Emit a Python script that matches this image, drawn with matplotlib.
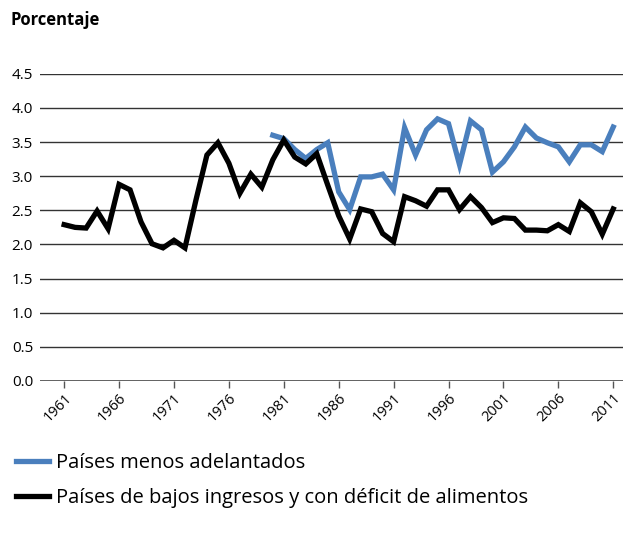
import matplotlib
matplotlib.use("Agg")
import matplotlib.pyplot as plt
from matplotlib.lines import Line2D

plt.rcParams['font.family'] = ['Open Sans', 'DejaVu Sans']

## the data
years = list(range(1961, 2012))
ingresos_bajos = [2.29, 2.25, 2.24, 2.49, 2.23, 2.88, 2.80, 2.33, 2.01, 1.95,
                  2.06, 1.95, 2.65, 3.31, 3.49, 3.19, 2.75, 3.03, 2.84, 3.24,
                  3.53, 3.28, 3.18, 3.33, 2.87, 2.42, 2.08, 2.52, 2.48, 2.16,
                  2.04, 2.70, 2.64, 2.56, 2.80, 2.80, 2.51, 2.70, 2.54, 2.32,
                  2.39, 2.38, 2.21, 2.21, 2.20, 2.29, 2.19, 2.61, 2.48, 2.15,
                  2.52]
years_pma = list(range(1980, 2012))
menos_adelantados = [3.60, 3.55, 3.39, 3.26, 3.39, 3.49, 2.77, 2.51, 2.99, 2.99,
                     3.03, 2.80, 3.71, 3.31, 3.68, 3.84, 3.77, 3.17, 3.81, 3.68,
                     3.06, 3.21, 3.43, 3.72, 3.56, 3.49, 3.43, 3.21, 3.46, 3.46,
                     3.36, 3.72]
tick_years = list(range(1961, 2012, 5))
yticks = [0.0, 0.5, 1.0, 1.5, 2.0, 2.5, 3.0, 3.5, 4.0, 4.5]

blue = '#4a7fbd'

fig = plt.figure(figsize=(6.25, 5.35), dpi=100)
ax = fig.add_axes([0.064, 0.288, 0.933, 0.574])

ax.plot(years_pma, menos_adelantados, color=blue, lw=3.8, solid_joinstyle='miter', zorder=3)
ax.plot(years, ingresos_bajos, color='black', lw=3.8, solid_joinstyle='miter', zorder=3)

## axes and grid
ax.set_xlim(1958.8, 2011.9)
ax.set_ylim(0, 4.5)
ax.set_yticks(yticks)
ax.set_yticklabels(['%.1f' % v for v in yticks], fontsize=11)
for v in yticks[1:]:
    ax.axhline(v, color='#333333', lw=1.0, zorder=1)
ax.axhline(0, color='#555555', lw=1.3, zorder=2)
for s in ax.spines.values():
    s.set_visible(False)
ax.tick_params(axis='y', length=0, pad=5)
ax.set_xticks(tick_years)
ax.set_xticklabels([str(y) for y in tick_years], rotation=45, ha='right',
                   rotation_mode='anchor', fontsize=10.5)
ax.tick_params(axis='x', length=5, width=1, color='#555555', direction='out', pad=2)

fig.text(0.016, 0.962, 'Porcentaje', fontsize=12, fontweight='bold', va='center')

handles = [Line2D([0], [0], color=blue, lw=3.8),
           Line2D([0], [0], color='black', lw=3.8)]
fig.legend(handles, ['Países menos adelantados',
                     'Países de bajos ingresos y con déficit de alimentos'],
           loc='upper left', bbox_to_anchor=(0.006, 0.175), frameon=False,
           fontsize=14.5, handlelength=1.65, handletextpad=0.35, labelspacing=0.72,
           borderaxespad=0.2)

fig.savefig('out.png', dpi=100)
